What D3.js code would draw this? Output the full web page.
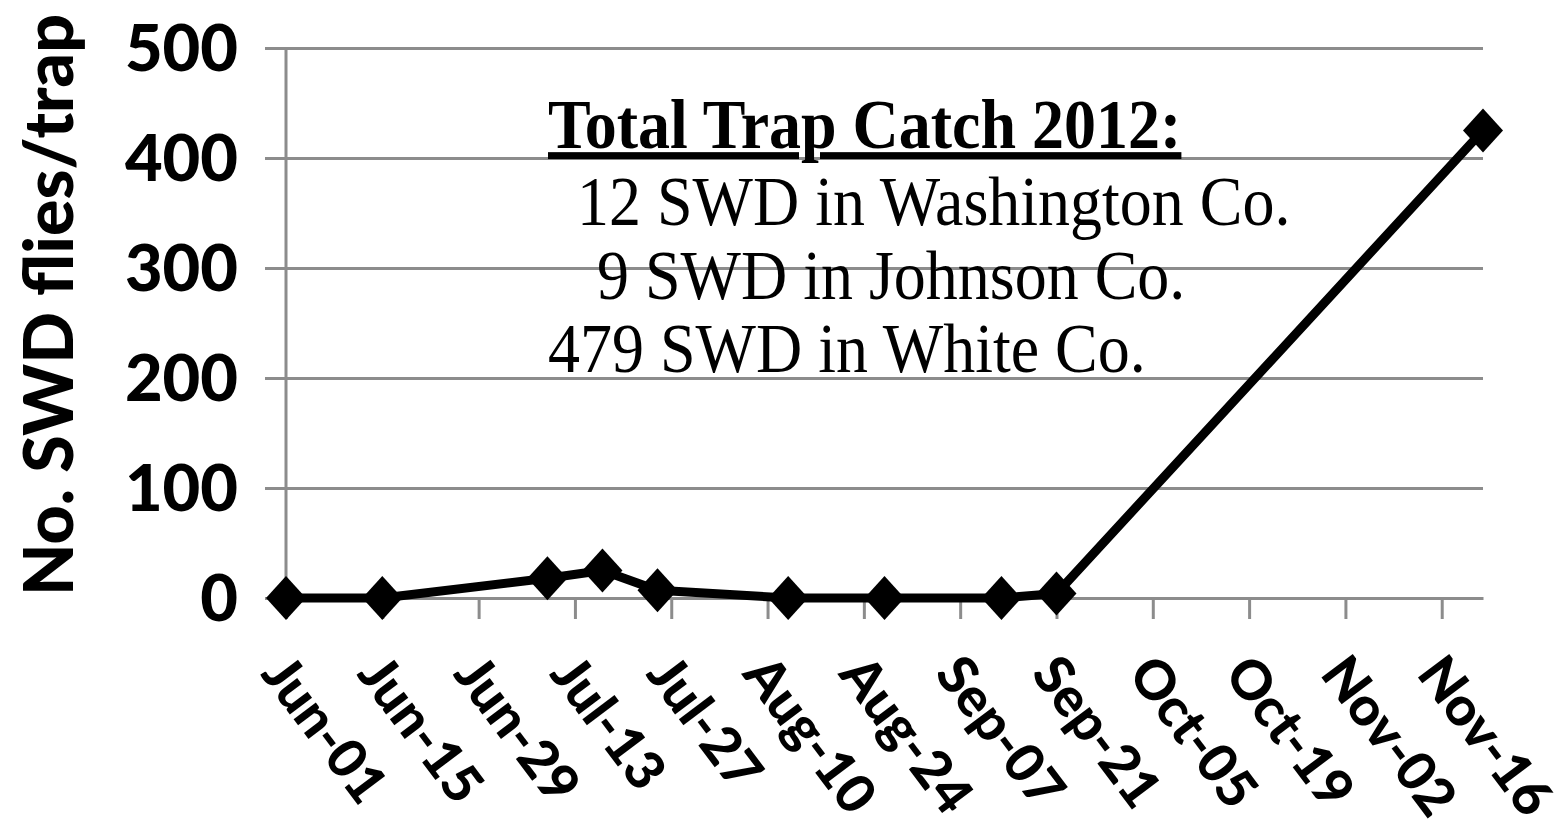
<!DOCTYPE html>
<html>
<head>
<meta charset="utf-8">
<script src="https://cdn.jsdelivr.net/npm/d3@7"></script>
<style>
  body { margin: 0; background: #fff; }
</style>
</head>
<body>
<div id="chart"></div>
<script>
// trap dates and counts (flies/trap)
const sampleDates = ["2012-06-01", "2012-06-15", "2012-07-09", "2012-07-17", "2012-07-25",
                     "2012-08-13", "2012-08-27", "2012-09-13", "2012-09-21", "2012-11-22"]
const flyCounts = [0, 0, 18, 25, 7, 0, 0, 0, 4, 425]

const yTicks = [0, 100, 200, 300, 400, 500]
const tickStepDays = 14

const noteTitle = "Total Trap Catch 2012:"
const noteLines = ["12 SWD in Washington Co.", "9 SWD in Johnson Co.", "479 SWD in White Co."]
const yTitle = "No. SWD flies/trap"

const width = 1560, height = 838
const margin = {top: 48, right: 77, bottom: 240, left: 286}

const parse = d3.utcParse("%Y-%m-%d")
const fmt = d3.utcFormat("%b-%d")
const data = sampleDates.map((d, i) => ({date: parse(d), value: flyCounts[i]}))

const start = data[0].date
const end = data[data.length - 1].date

const svg = d3.select("#chart").append("svg")
    .attr("width", width)
    .attr("height", height)

const x = d3.scaleUtc()
    .domain([start, end])
    .range([margin.left, width - margin.right])

const y = d3.scaleLinear()
    .domain([0, 500])
    .range([height - margin.bottom, margin.top])

// tick dates every two weeks from the first sample
const xTickDates = d3.utcDay.range(start, d3.utcDay.offset(end, 1), tickStepDays)

const grey = "#8c8c8c"
const sans = "Lato, 'Open Sans', sans-serif"

// gridlines + y ticks
svg.append("g")
    .attr("transform", "translate(" + margin.left + ",0)")
    .call(d3.axisLeft(y).tickValues(yTicks).tickSize(-(width - margin.right - margin.left)).tickSizeOuter(0).tickFormat(""))
    .call(g => g.select(".domain").remove())
    .call(g => g.selectAll(".tick line").attr("stroke", grey).attr("stroke-width", 3)
        .attr("x1", -21))

// y axis line
svg.append("line")
    .attr("x1", margin.left).attr("x2", margin.left)
    .attr("y1", y(500)).attr("y2", y(0))
    .attr("stroke", grey).attr("stroke-width", 3)

// y tick labels
svg.append("g")
    .selectAll("text")
    .data(yTicks)
    .enter()
    .append("text")
    .attr("x", 238)
    .attr("y", d => y(d))
    .attr("dy", "0.36em")
    .attr("text-anchor", "end")
    .style("font-family", sans)
    .style("font-weight", 900)
    .style("font-size", "65px")
    .text(d => d)

// x axis
svg.append("g")
    .attr("transform", "translate(0," + y(0) + ")")
    .call(d3.axisBottom(x).tickValues(xTickDates).tickSize(21).tickSizeOuter(0).tickFormat(""))
    .call(g => g.select(".domain").attr("stroke", grey).attr("stroke-width", 3))
    .call(g => g.selectAll(".tick line").attr("stroke", grey).attr("stroke-width", 3))

// rotated date labels
svg.append("g")
    .selectAll("text")
    .data(xTickDates)
    .enter()
    .append("text")
    .attr("transform", d => "translate(" + (x(d) + 6) + ",650) rotate(53)")
    .attr("text-anchor", "start")
    .attr("dy", "0.75em")
    .style("font-family", sans)
    .style("font-weight", 900)
    .style("font-size", "54px")
    .text(d => fmt(d))

// y axis title
svg.append("text")
    .attr("transform", "translate(73," + 305 + ") rotate(-90)")
    .attr("text-anchor", "middle")
    .style("font-family", sans)
    .style("font-weight", 900)
    .style("font-size", "68px")
    .text(yTitle)

// series line
svg.append("path")
    .datum(data)
    .attr("fill", "none")
    .attr("stroke", "#000")
    .attr("stroke-width", 9)
    .attr("stroke-linejoin", "round")
    .attr("d", d3.line().x(d => x(d.date)).y(d => y(d.value)))

// diamond markers
svg.append("g")
    .selectAll("path")
    .data(data)
    .enter()
    .append("path")
    .attr("transform", d => "translate(" + x(d.date) + "," + y(d.value) + ")")
    .attr("d", "M0,-22L20,0L0,22L-20,0Z")
    .attr("fill", "#000")

// annotation
const note = svg.append("g")
    .style("font-family", "'Liberation Serif', 'Times New Roman', serif")
    .style("font-size", "64px")

note.append("text")
    .attr("transform", "translate(548,148) scale(1,1.08)")
    .style("font-weight", 700)
    .attr("text-decoration", "underline")
    .text(noteTitle)

const lineX = [577, 597, 548]
const lineY = [225, 299, 372]
note.selectAll("text.line")
    .data(noteLines)
    .enter()
    .append("text")
    .attr("class", "line")
    .attr("transform", (d, i) => "translate(" + lineX[i] + "," + lineY[i] + ") scale(1,1.08)")
    .text(d => d)
</script>
</body>
</html>
